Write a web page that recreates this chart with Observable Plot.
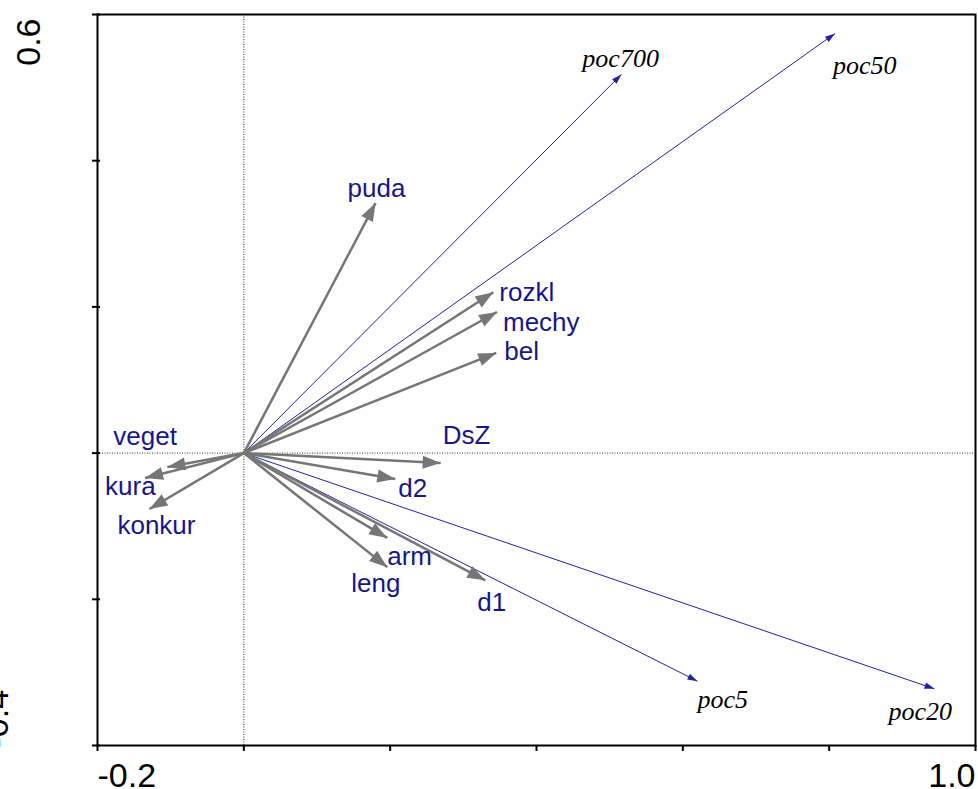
<!DOCTYPE html>
<html>
<head>
<meta charset="utf-8">
<script src="https://cdn.jsdelivr.net/npm/d3@7"></script>
<script src="https://cdn.jsdelivr.net/npm/@observablehq/plot@0.6"></script>
<style>
  body { margin: 0; background: #ffffff; }
  #chart svg { display: block; }
</style>
</head>
<body>
<div id="chart"></div>
<script>
// ---- Data ----
// Environmental variables (grey arrows)
const envNames = ["puda", "rozkl", "mechy", "bel", "DsZ", "d2", "arm", "leng", "d1", "veget", "kura", "konkur"];
const envX     = [0.180, 0.341, 0.346, 0.345, 0.269, 0.207, 0.196, 0.196, 0.330, -0.1045, -0.135, -0.129];
const envY     = [0.342, 0.220, 0.193, 0.137, -0.0137, -0.0355, -0.116, -0.156, -0.174, -0.019, -0.034, -0.0765];

// Species / response variables (blue arrows)
const spNames = ["poc700", "poc50", "poc5", "poc20"];
const spX     = [0.516, 0.808, 0.620, 0.944];
const spY     = [0.518, 0.574, -0.312, -0.3225];

// Axis ticks and labels
const xTicks = [-0.2, 0, 0.2, 0.4, 0.6, 0.8, 1.0];
const yTicks = [-0.4, -0.2, 0, 0.2, 0.4, 0.6];
const xLabelValues = [-0.2, 1.0];
const xLabelTexts  = ["-0.2", "1.0"];
const yLabelValues = [0.6, -0.4];
const yLabelTexts  = ["0.6", "-0.4"];

// ---- Label placement offsets (pixels, relative to arrow tips) ----
const envLabelOffset = {
  puda: [-28, -14], rozkl: [6, 0], mechy: [6, 11], bel: [8, -1],
  DsZ: [2, -27], d2: [3, 10], arm: [0, 19], leng: [-36, 17],
  d1: [-8, 22], veget: [-54, -30], kura: [-40, 9], konkur: [-32, 17]
};
const spLabelOffset = {
  poc700: [-39, -16], poc50: [-2, 32], poc5: [0, 18], poc20: [-46, 23]
};

const NAVY = "#16168c";
const BLUE_LINE = "#2222a6";
const GREY = "#767676";

const envIdx = d3.range(envNames.length);
const spIdx = d3.range(spNames.length);

const sans = "'Liberation Sans', Arial, Helvetica, sans-serif";
const serif = "'Liberation Serif', 'Times New Roman', Times, serif";

const plot = Plot.plot({
  width: 978,
  height: 789,
  marginLeft: 97,
  marginRight: 3,
  marginTop: 14,
  marginBottom: 44,
  style: { background: "#ffffff", fontFamily: sans, overflow: "visible" },
  x: { domain: [-0.2, 1.0] },
  y: { domain: [-0.4, 0.6] },
  marks: [
    // dotted zero lines
    Plot.ruleX([0], { stroke: "#333", strokeWidth: 1, strokeDasharray: "1,1.5" }),
    Plot.ruleY([0], { stroke: "#333", strokeWidth: 1, strokeDasharray: "1,1.5" }),
    // ticks (no automatic labels)
    Plot.axisX(xTicks, { tickSize: 6, tickFormat: () => "", strokeWidth: 2, stroke: "#000", label: null }),
    Plot.axisY(yTicks, { tickSize: 8, dx: 3, tickFormat: () => "", strokeWidth: 2, stroke: "#000", label: null }),
    // frame
    Plot.frame({ stroke: "#000", strokeWidth: 2 }),
    // blue arrows
    Plot.link(spIdx, {
      x1: 0, y1: 0,
      x2: i => spX[i], y2: i => spY[i],
      stroke: BLUE_LINE, strokeWidth: 1, markerEnd: "arrow"
    }),
    // grey arrows
    Plot.link(envIdx, {
      x1: 0, y1: 0,
      x2: i => envX[i], y2: i => envY[i],
      stroke: GREY, strokeWidth: 2.5, markerEnd: "arrow"
    }),
    // env labels
    ...envIdx.map(i => Plot.text([i], {
      x: j => envX[j], y: j => envY[j],
      text: j => envNames[j],
      dx: envLabelOffset[envNames[i]][0], dy: envLabelOffset[envNames[i]][1],
      textAnchor: "start", fill: NAVY, fontSize: 26, fontFamily: sans
    })),
    // species labels
    ...spIdx.map(i => Plot.text([i], {
      x: j => spX[j], y: j => spY[j],
      text: j => spNames[j],
      dx: spLabelOffset[spNames[i]][0], dy: spLabelOffset[spNames[i]][1],
      textAnchor: "start", fill: "#000", fontSize: 26, fontFamily: serif, fontStyle: "italic"
    })),
    // x tick labels
    Plot.text([0], {
      x: () => xLabelValues[0], y: () => -0.4, text: () => xLabelTexts[0],
      textAnchor: "start", dy: 31, fontSize: 34, fill: "#000", fontFamily: sans
    }),
    Plot.text([1], {
      x: () => xLabelValues[1], y: () => -0.4, text: () => xLabelTexts[1],
      textAnchor: "end", dy: 31, fontSize: 34, fill: "#000", fontFamily: sans
    }),
    // y tick labels (rotated)
    Plot.text([0], {
      x: () => -0.2, y: () => yLabelValues[0], text: () => yLabelTexts[0],
      rotate: -90, textAnchor: "end", dx: -68, dy: 4, fontSize: 34, fill: "#000", fontFamily: sans
    }),
    Plot.text([1], {
      x: () => -0.2, y: () => yLabelValues[1], text: () => yLabelTexts[1],
      rotate: -90, textAnchor: "start", dx: -100, dy: 3, fontSize: 34, fill: "#000", fontFamily: sans
    })
  ]
});

// Replace Plot's open arrow markers with filled triangle heads
plot.querySelectorAll("marker").forEach(m => {
  const color = m.getAttribute("stroke") || GREY;
  const isGrey = color.toLowerCase() === GREY;
  m.setAttribute("markerUnits", "userSpaceOnUse");
  m.setAttribute("viewBox", "-30 -15 30 30");
  m.setAttribute("markerWidth", "30");
  m.setAttribute("markerHeight", "30");
  m.setAttribute("refX", "0");
  m.setAttribute("refY", "0");
  m.setAttribute("fill", color);
  m.setAttribute("stroke", "none");
  m.style.overflow = "visible";
  const p = m.querySelector("path");
  if (p) {
    p.setAttribute("d", isGrey ? "M-18,-6.5L0,0L-18,6.5Z" : "M-10,-3.2L0,0L-10,3.2Z");
    p.setAttribute("fill", color);
    p.setAttribute("stroke", "none");
  }
});

document.getElementById("chart").appendChild(plot);
</script>
</body>
</html>
